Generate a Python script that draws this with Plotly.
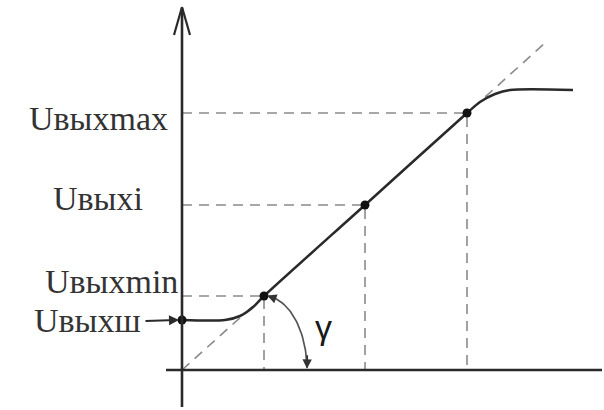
import numpy as np
import plotly.graph_objects as go

# Transfer characteristic: input level -> output level (arbitrary units, origin at axis crossing)
curve_in = [0, 43, 58, 70, 82, 183, 285, 298, 313, 328, 391]
curve_out = [50, 50, 54, 62, 74, 165, 257, 268, 276, 280, 280]

# Marked operating points on the curve
point_in = [0, 82, 183, 285]
point_out = [50, 74, 165, 257]

# Output levels referenced on the vertical axis
level_names = ["Uвыхш", "Uвыхmin", "Uвыхi", "Uвыхmax"]
level_values = [50, 74, 165, 257]
level_inputs = [None, 82, 183, 285]

# Ideal linear characteristic (dashed diagonal)
ideal_in = [0, 363]
ideal_out = [0, 327]

ink = "#2a2a2a"
dash_col = "#8a8a8a"
font_fam = "Liberation Serif"

fig = go.Figure()

# dashed ideal line
fig.add_trace(go.Scatter(x=ideal_in, y=ideal_out, mode="lines",
                         line=dict(color=dash_col, width=1.6, dash="10px,7px"),
                         hoverinfo="skip"))

# projection lines from the points to the axes
for name, lv, xin in zip(level_names, level_values, level_inputs):
    if xin is None:
        continue
    fig.add_trace(go.Scatter(x=[0, xin, xin], y=[lv, lv, 0], mode="lines",
                             line=dict(color=dash_col, width=1.6, dash="10px,7px"),
                             hoverinfo="skip"))

# transfer curve
fig.add_trace(go.Scatter(x=curve_in, y=curve_out, mode="lines",
                         line=dict(color=ink, width=2.5, shape="spline", smoothing=0.8),
                         hoverinfo="skip"))

# operating points
fig.add_trace(go.Scatter(x=point_in, y=point_out, mode="markers",
                         marker=dict(color="#111", size=9), hoverinfo="skip"))

# angle arc gamma (quarter ellipse around the foot of the min projection)
t = np.linspace(np.pi / 2 - 0.12, 0.03, 40)
arc_x = 82 + 43 * np.cos(t)
arc_y = 74 * np.sin(t)
fig.add_trace(go.Scatter(x=arc_x, y=arc_y, mode="lines",
                         line=dict(color="#555", width=1.7), hoverinfo="skip"))

# axes
fig.add_shape(type="line", x0=-16, y0=0, x1=420, y1=0,
              line=dict(color=ink, width=2.6))
fig.add_shape(type="line", x0=0, y0=-37, x1=0, y1=362,
              line=dict(color=ink, width=2.6))
fig.add_shape(type="line", x0=-8, y0=335, x1=0, y1=363,
              line=dict(color=ink, width=2.2))
fig.add_shape(type="line", x0=8, y0=335, x1=0, y1=363,
              line=dict(color=ink, width=2.2))

annotations = []
label_pos = {
    "Uвыхmax": (-12, 252),
    "Uвыхi": (-37, 172),
    "Uвыхmin": (-2, 89),
    "Uвыхш": (-39, 50),
}
for name in level_names:
    lx, ly = label_pos[name]
    annotations.append(dict(x=lx, y=ly, text=name, showarrow=False,
                            xanchor="right", yanchor="middle",
                            font=dict(family=font_fam, size=34, color="#333")))

# arrow from the noise label to its point
annotations.append(dict(x=-3, y=50, ax=-38, ay=49, xref="x", yref="y",
                        axref="x", ayref="y", text="", showarrow=True,
                        arrowhead=2, arrowsize=1, arrowwidth=2, arrowcolor=ink))
# arrowheads of the angle arc
annotations.append(dict(x=arc_x[-1], y=arc_y[-1] - 1, ax=arc_x[-1] + 0.3, ay=arc_y[-1] + 14,
                        xref="x", yref="y", axref="x", ayref="y", text="",
                        showarrow=True, arrowhead=2, arrowsize=1.1, arrowwidth=1.7,
                        arrowcolor="#333"))
annotations.append(dict(x=arc_x[0] - 2, y=arc_y[0] + 1, ax=arc_x[4], ay=arc_y[4],
                        xref="x", yref="y", axref="x", ayref="y", text="",
                        showarrow=True, arrowhead=2, arrowsize=1.1, arrowwidth=1.7,
                        arrowcolor="#333"))
annotations.append(dict(x=141, y=43, text="γ", showarrow=False,
                        xanchor="center", yanchor="middle",
                        font=dict(family="Liberation Sans", size=34, color="#1a1a1a")))

fig.update_layout(
    width=604, height=410,
    margin=dict(l=0, r=0, t=0, b=0),
    paper_bgcolor="white", plot_bgcolor="white",
    showlegend=False,
    xaxis=dict(range=[-182, 422], visible=False, fixedrange=True),
    yaxis=dict(range=[-40, 370], visible=False, fixedrange=True),
    annotations=annotations,
)

fig.write_html("out.html")
